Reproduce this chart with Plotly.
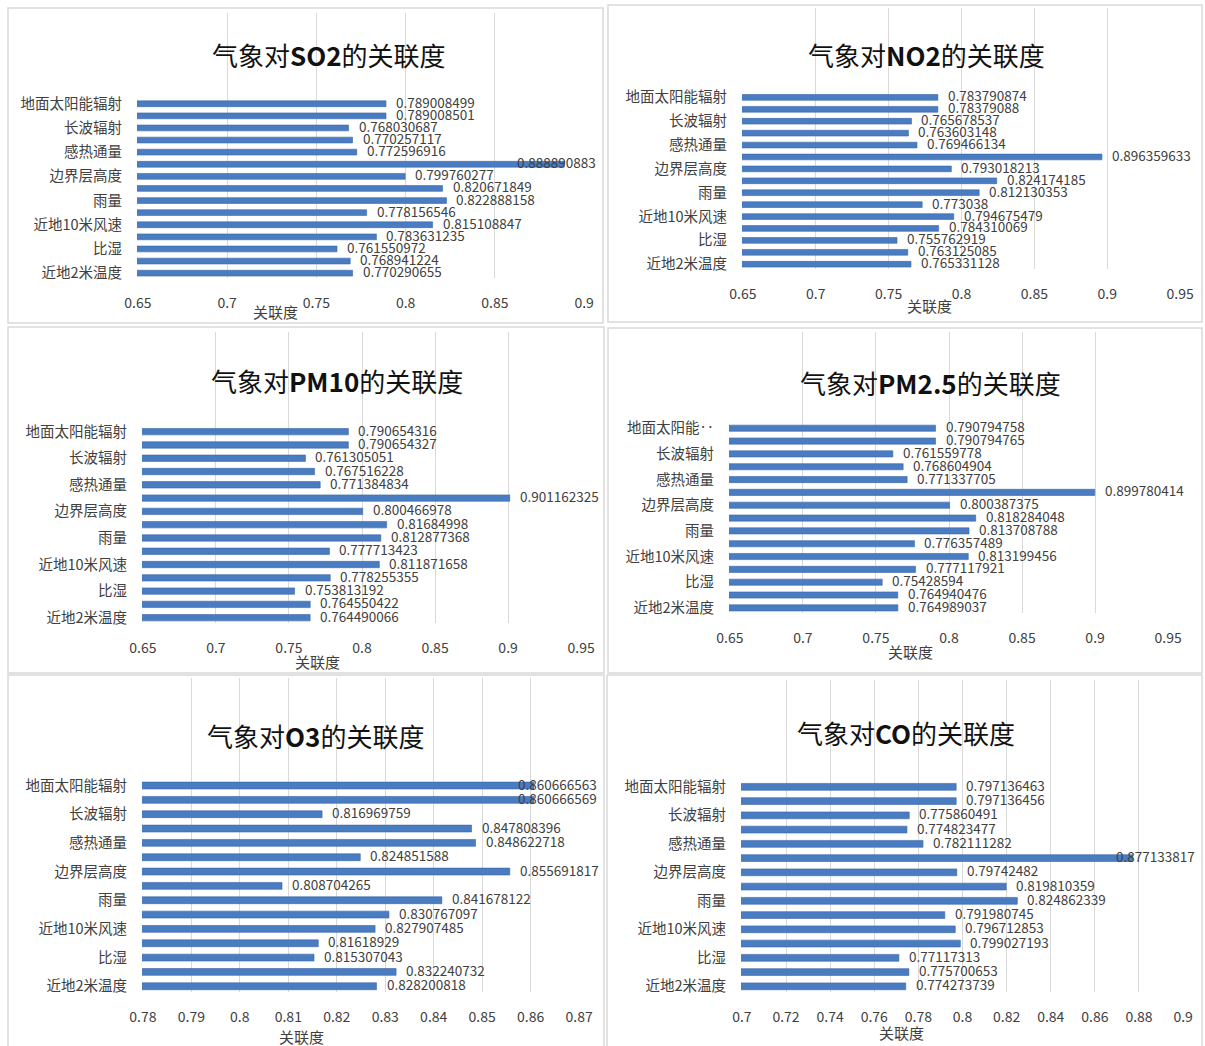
import plotly.graph_objects as go

W, H = 1205, 1046

# Meteorological factors, listed from the bottom bar upwards (every other one is labelled)
factor_labels = ["近地2米温度", "比湿", "近地10米风速", "雨量", "边界层高度", "感热通量", "长波辐射", "地面太阳能辐射"]
factor_labels_pm25 = ["近地2米温度", "比湿", "近地10米风速", "雨量", "边界层高度", "感热通量", "长波辐射", "地面太阳能‥"]

# Grey relational degree of each factor, bottom bar first
so2 = [0.770290655, 0.768941224, 0.761550972, 0.783631235, 0.815108847, 0.778156546, 0.822888158,
       0.820671849, 0.799760277, 0.888890883, 0.772596916, 0.770257117, 0.768030687, 0.789008501, 0.789008499]
no2 = [0.765331128, 0.763125085, 0.755762919, 0.784310069, 0.794675479, 0.773038, 0.812130353,
       0.824174185, 0.793018213, 0.896359633, 0.769466134, 0.763603148, 0.765678537, 0.78379088, 0.783790874]
pm10 = [0.764490066, 0.764550422, 0.753813192, 0.778255355, 0.811871658, 0.777713423, 0.812877368,
        0.81684998, 0.800466978, 0.901162325, 0.771384834, 0.767516228, 0.761305051, 0.790654327, 0.790654316]
pm25 = [0.764989037, 0.764940476, 0.75428594, 0.777117921, 0.813199456, 0.776357489, 0.813708788,
        0.818284048, 0.800387375, 0.899780414, 0.771337705, 0.768604904, 0.761559778, 0.790794765, 0.790794758]
o3 = [0.828200818, 0.832240732, 0.815307043, 0.81618929, 0.827907485, 0.830767097, 0.841678122,
      0.808704265, 0.855691817, 0.824851588, 0.848622718, 0.847808396, 0.816969759, 0.860666569, 0.860666563]
co = [0.774273739, 0.775700653, 0.77117313, 0.799027193, 0.796712853, 0.791980745, 0.824862339,
      0.819810359, 0.79742482, 0.877133817, 0.782111282, 0.774823477, 0.775860491, 0.797136456, 0.797136463]

ticks_a = [0.65, 0.7, 0.75, 0.8, 0.85, 0.9]
ticks_b = [0.65, 0.7, 0.75, 0.8, 0.85, 0.9, 0.95]
ticks_o3 = [0.78, 0.79, 0.8, 0.81, 0.82, 0.83, 0.84, 0.85, 0.86, 0.87]
ticks_co = [0.7, 0.72, 0.74, 0.76, 0.78, 0.8, 0.82, 0.84, 0.86, 0.88, 0.9]

titles = ["气象对<b>SO2</b>的关联度", "气象对<b>NO2</b>的关联度", "气象对<b>PM10</b>的关联度",
          "气象对<b>PM2.5</b>的关联度", "气象对<b>O3</b>的关联度", "气象对<b>CO</b>的关联度"]
axis_title = "关联度"

FONT = "Noto Sans CJK SC, Noto Sans, sans-serif"
TEXT_GREY = "#404040"
BAR_BLUE = "#4a7cc2"
VALUE_SIZE = 13.5

# Layout of each chart tile, in pixels: frame box, plot box, title centre, axis-title centre
panels = [
    dict(values=so2, labels=factor_labels, ticks=ticks_a, frame=(8, 8, 603, 323), plot=(137, 13, 585, 278),
         title_xy=(329, 55), axtitle_xy=(275, 311)),
    dict(values=no2, labels=factor_labels, ticks=ticks_b, frame=(608, 5, 1202, 322), plot=(742, 8, 1181, 269),
         title_xy=(926, 55), axtitle_xy=(929, 305)),
    dict(values=pm10, labels=factor_labels, ticks=ticks_b, frame=(8, 327, 604, 673), plot=(142, 332, 582, 623),
         title_xy=(337, 380), axtitle_xy=(317, 661)),
    dict(values=pm25, labels=factor_labels_pm25, ticks=ticks_b, frame=(608, 328, 1202, 673), plot=(729, 332, 1169, 613),
         title_xy=(930, 382), axtitle_xy=(910, 651)),
    dict(values=o3, labels=factor_labels, ticks=ticks_o3, frame=(8, 675, 604, 1050), plot=(142, 678, 580, 992),
         title_xy=(315, 735), axtitle_xy=(301, 1036)),
    dict(values=co, labels=factor_labels, ticks=ticks_co, frame=(607, 675, 1202, 1050), plot=(741, 680, 1184, 992),
         title_xy=(906, 732), axtitle_xy=(901, 1032)),
]


def px_x(x):
    return x / W


def px_y(y):
    return 1 - y / H


fig = go.Figure()
annotations = []
shapes = []
layout_axes = {}

for i, (p, title) in enumerate(zip(panels, titles), start=1):
    xa = "x" if i == 1 else f"x{i}"
    ya = "y" if i == 1 else f"y{i}"
    vals = p["values"]
    n = len(vals)
    positions = list(range(n))
    x0, y0, x1, y1 = p["plot"]
    lo, hi = p["ticks"][0], p["ticks"][-1]

    fig.add_trace(go.Bar(
        x=vals, y=positions, orientation="h", width=0.48,
        marker=dict(color=BAR_BLUE, line=dict(color="#3a66a6", width=0.6)),
        xaxis=xa, yaxis=ya, showlegend=False, hoverinfo="x",
    ))

    pad = (hi - lo) * 0.002
    layout_axes["xaxis" if i == 1 else f"xaxis{i}"] = dict(
        domain=[px_x(x0), px_x(x1)], anchor=ya, range=[lo - pad, hi + pad], automargin=False,
        tickmode="array", tickvals=p["ticks"], ticktext=[f"{t:g}" for t in p["ticks"]],
        showgrid=True, gridcolor="#d9d9d9", gridwidth=1, zeroline=False, showline=False,
        ticks="", ticklabelstandoff=15, tickfont=dict(family=FONT, size=14, color=TEXT_GREY),
        fixedrange=True,
    )
    layout_axes["yaxis" if i == 1 else f"yaxis{i}"] = dict(
        domain=[px_y(y1), px_y(y0)], anchor=xa, range=[-0.4, 21.5], automargin=False,
        tickmode="array", tickvals=positions[::2], ticktext=p["labels"],
        showgrid=False, zeroline=False, showline=False, ticks="", ticklabelstandoff=14,
        tickfont=dict(family=FONT, size=14.5, color=TEXT_GREY), fixedrange=True,
    )

    # Chart tile frame
    fx0, fy0, fx1, fy1 = p["frame"]
    shapes.append(dict(type="rect", xref="paper", yref="paper",
                       x0=px_x(fx0), x1=px_x(fx1), y0=px_y(fy1), y1=px_y(fy0),
                       line=dict(color="#d9d9d9", width=1.5), layer="below"))

    # Chart title and value-axis title
    tx, ty = p["title_xy"]
    annotations.append(dict(text=title, xref="paper", yref="paper", x=px_x(tx), y=px_y(ty),
                            xanchor="center", yanchor="middle", showarrow=False,
                            font=dict(family=FONT, size=26, color="#111111")))
    ax, ay = p["axtitle_xy"]
    annotations.append(dict(text=axis_title, xref="paper", yref="paper", x=px_x(ax), y=px_y(ay),
                            xanchor="center", yanchor="middle", showarrow=False,
                            font=dict(family=FONT, size=15, color=TEXT_GREY)))

    # Value labels beside the bars; kept inside the tile when they would run past its edge
    for pos, v in zip(positions, vals):
        txt = str(v)
        bar_end = x0 + (v - (lo - pad)) / ((hi + pad) - (lo - pad)) * (x1 - x0)
        label_w = 7.2 * (len(txt) - 1) + 3.6
        if bar_end + 9 + label_w > fx1 - 4:
            annotations.append(dict(text=txt, xref="paper", yref=ya, x=px_x(fx1 - 5), y=pos, yshift=2,
                                    xanchor="right", yanchor="middle", showarrow=False,
                                    font=dict(family=FONT, size=VALUE_SIZE, color=TEXT_GREY)))
        else:
            annotations.append(dict(text=txt, xref=xa, yref=ya, x=v, y=pos, xshift=8, yshift=2,
                                    xanchor="left", yanchor="middle", showarrow=False,
                                    font=dict(family=FONT, size=VALUE_SIZE, color=TEXT_GREY)))

fig.update_layout(
    template="none",
    width=W, height=H, margin=dict(l=0, r=0, t=0, b=0, autoexpand=False),
    paper_bgcolor="white", plot_bgcolor="rgba(0,0,0,0)",
    bargap=0.5, annotations=annotations, shapes=shapes,
    font=dict(family=FONT, color=TEXT_GREY),
    **layout_axes,
)

fig.write_html("out.html", config={"displayModeBar": False})
